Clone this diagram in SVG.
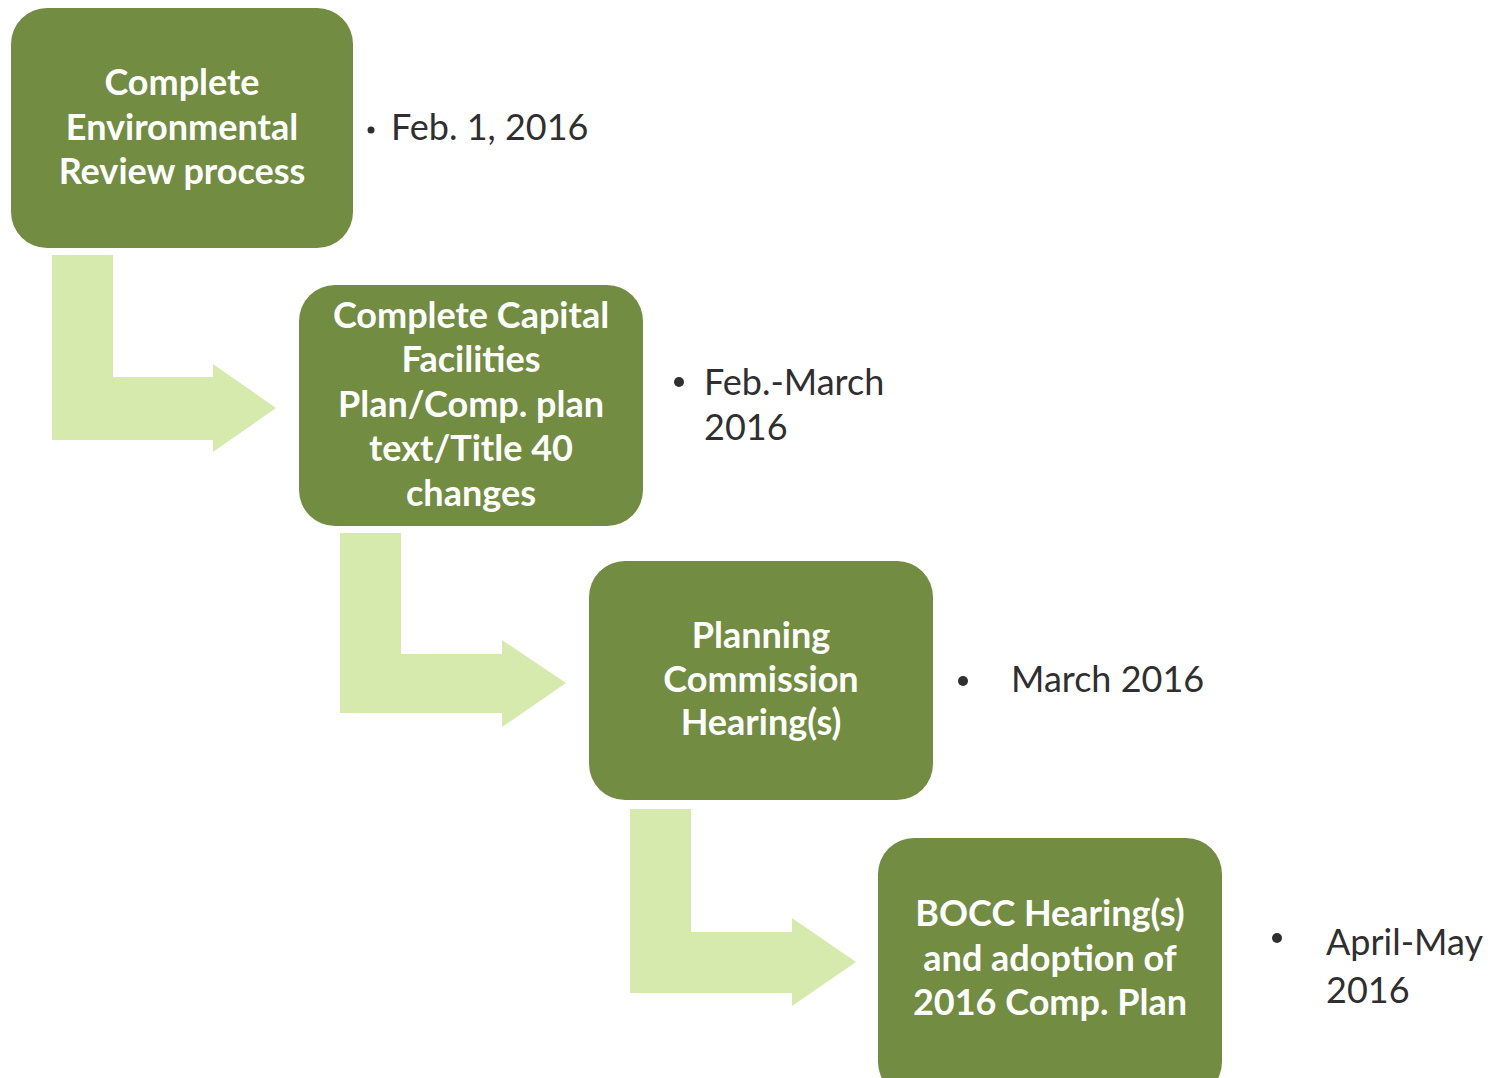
<svg xmlns="http://www.w3.org/2000/svg" width="1494" height="1078" viewBox="0 0 1494 1078">
<style>
.box{fill:#728c42;}
.arrow{fill:#d6eaad;}
.lbl{font-family:Lato,"Liberation Sans",sans-serif;font-weight:bold;font-size:36px;fill:#ffffff;text-anchor:middle;}
.date{font-family:Lato,"Liberation Sans",sans-serif;font-size:36px;fill:#2f2f2f;}
.dot{fill:#2f2f2f;}
</style>
<rect width="1494" height="1078" fill="#ffffff"/>
<g id="connectors">
<path class="arrow" d="M52,255 H113 V377 H213 V364 L276,408 L213,452 V440 H52 Z"/>
<path class="arrow" d="M340,533 H401 V654 H502 V640 L566,683 L502,727 V713 H340 Z"/>
<path class="arrow" d="M630,809 H691 V932 H792 V918 L856,962 L792,1006 V993 H630 Z"/>
</g>
<g id="node1">
<rect class="box" x="11" y="8" width="342" height="240" rx="36"/>
<text class="lbl" x="182" y="95">Complete</text>
<text class="lbl" x="182" y="140">Environmental</text>
<text class="lbl" x="182" y="184">Review process</text>
</g>
<g id="node2">
<rect class="box" x="299" y="285" width="344" height="241" rx="36"/>
<text class="lbl" x="471" y="328">Complete Capital</text>
<text class="lbl" x="471" y="372">Facilities</text>
<text class="lbl" x="471" y="417">Plan/Comp. plan</text>
<text class="lbl" x="471" y="461">text/Title 40</text>
<text class="lbl" x="471" y="506">changes</text>
</g>
<g id="node3">
<rect class="box" x="589" y="561" width="344" height="239" rx="36"/>
<text class="lbl" x="761" y="648">Planning</text>
<text class="lbl" x="761" y="692">Commission</text>
<text class="lbl" x="761" y="735">Hearing(s)</text>
</g>
<g id="node4">
<rect class="box" x="878" y="838" width="344" height="260" rx="36"/>
<text class="lbl" x="1050" y="926">BOCC Hearing(s)</text>
<text class="lbl" x="1050" y="971">and adoption of</text>
<text class="lbl" x="1050" y="1015">2016 Comp. Plan</text>
</g>
<g id="dates">
<circle class="dot" cx="371" cy="130" r="3.5"/>
<text class="date" x="391" y="140">Feb. 1, 2016</text>
<circle class="dot" cx="679" cy="382" r="5"/>
<text class="date" x="704" y="395">Feb.-March</text>
<text class="date" x="704" y="440">2016</text>
<circle class="dot" cx="963" cy="681" r="5"/>
<text class="date" x="1011" y="692">March 2016</text>
<circle class="dot" cx="1277" cy="938" r="5"/>
<text class="date" x="1326" y="955">April-May</text>
<text class="date" x="1326" y="1003">2016</text>
</g>
</svg>
